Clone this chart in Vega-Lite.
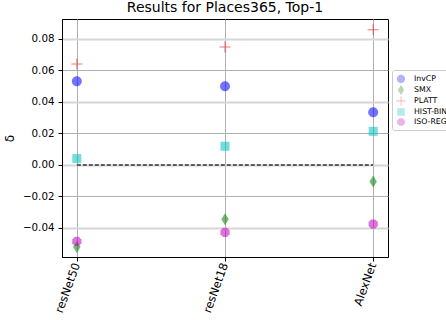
{
  "$schema": "https://vega.github.io/schema/vega-lite/v6.json",
  "autosize": "none",
  "width": 326,
  "height": 238,
  "padding": {"left": 62, "top": 19, "right": 58, "bottom": 63},
  "background": "white",
  "title": {
    "text": "Results for Places365, Top-1",
    "font": "DejaVu Sans",
    "fontSize": 14,
    "fontWeight": "normal",
    "color": "black",
    "anchor": "middle",
    "offset": 4
  },
  "config": {
    "font": "DejaVu Sans",
    "view": {"stroke": "black", "strokeWidth": 1}
  },
  "datasets": {
    "results": [
      {"model": "resNet50", "method": "InvCP", "delta": 0.053},
      {"model": "resNet50", "method": "SMX", "delta": -0.052},
      {"model": "resNet50", "method": "PLATT", "delta": 0.064},
      {"model": "resNet50", "method": "HIST-BIN", "delta": 0.004},
      {"model": "resNet50", "method": "ISO-REG", "delta": -0.0485},
      {"model": "resNet18", "method": "InvCP", "delta": 0.0498},
      {"model": "resNet18", "method": "SMX", "delta": -0.0344},
      {"model": "resNet18", "method": "PLATT", "delta": 0.0747},
      {"model": "resNet18", "method": "HIST-BIN", "delta": 0.0118},
      {"model": "resNet18", "method": "ISO-REG", "delta": -0.0428},
      {"model": "AlexNet", "method": "InvCP", "delta": 0.0334},
      {"model": "AlexNet", "method": "SMX", "delta": -0.0105},
      {"model": "AlexNet", "method": "PLATT", "delta": 0.0857},
      {"model": "AlexNet", "method": "HIST-BIN", "delta": 0.0213},
      {"model": "AlexNet", "method": "ISO-REG", "delta": -0.0375}
    ],
    "baseline": [
      {"model": "resNet50", "delta": 0},
      {"model": "AlexNet", "delta": 0}
    ]
  },
  "encoding": {
    "x": {
      "field": "model",
      "type": "nominal",
      "sort": ["resNet50", "resNet18", "AlexNet"],
      "scale": {"type": "point", "domain": ["resNet50", "resNet18", "AlexNet"], "padding": 0.1},
      "axis": {
        "title": null,
        "labelAngle": -70,
        "labelFontSize": 11.5,
        "labelColor": "black",
        "labelPadding": 2,
        "tickSize": 4,
        "tickColor": "black",
        "domainColor": "black",
        "grid": true,
        "gridColor": "#b0b0b0",
        "gridWidth": 1
      }
    },
    "y": {
      "field": "delta",
      "type": "quantitative",
      "scale": {"domain": [-0.0584, 0.0925], "nice": false, "zero": false},
      "axis": {
        "title": "δ",
        "titleFontSize": 12,
        "titleFontWeight": "normal",
        "titleColor": "black",
        "titlePadding": 6,
        "values": [-0.04, -0.02, 0, 0.02, 0.04, 0.06, 0.08],
        "format": ".2f",
        "labelFontSize": 10.3,
        "labelColor": "black",
        "labelPadding": 4,
        "tickSize": 4,
        "tickColor": "black",
        "domainColor": "black",
        "grid": true,
        "gridColor": {
          "condition": {"test": "abs(round(datum.value * 100)) % 4 == 0", "value": "#d6d6d6"},
          "value": "#b0b0b0"
        },
        "gridWidth": {
          "condition": {"test": "abs(round(datum.value * 100)) % 4 == 0", "value": 2},
          "value": 1
        }
      }
    }
  },
  "layer": [
    {
      "data": {"name": "baseline"},
      "mark": {"type": "line", "color": "#333333", "strokeWidth": 1.5, "strokeDash": [4, 2]},
      "encoding": {}
    },
    {
      "data": {"name": "results"},
      "mark": {"type": "point", "filled": true, "opacity": 0.55, "size": 144, "strokeWidth": 0},
      "encoding": {
        "color": {
          "field": "method",
          "type": "nominal",
          "scale": {
            "domain": ["InvCP", "SMX", "PLATT", "HIST-BIN", "ISO-REG"],
            "range": ["#0000ff", "#008000", "#ff0000", "#00bfbf", "#bf00bf"]
          },
          "legend": {
            "title": null,
            "orient": "none",
            "legendX": 330,
            "legendY": 51,
            "padding": 4,
            "fillColor": "white",
            "strokeColor": "#cccccc",
            "cornerRadius": 2,
            "labelFont": "DejaVu Sans",
            "labelFontSize": 7.8,
            "labelColor": "black",
            "labelOffset": 8,
            "rowPadding": 1,
            "symbolSize": 100,
            "symbolOpacity": 0.6,
            "symbolStrokeWidth": 0
          }
        },
        "shape": {
          "field": "method",
          "type": "nominal",
          "scale": {
            "domain": ["InvCP", "SMX", "PLATT", "HIST-BIN", "ISO-REG"],
            "range": [
              "M0.83,0A0.83,0.83,0,1,1,-0.83,0A0.83,0.83,0,1,1,0.83,0Z",
              "M0,-1L0.62,0L0,1L-0.62,0Z",
              "M-0.92,-0.09H0.92V0.09H-0.92Z M-0.09,-0.92H0.09V0.92H-0.09Z",
              "M-0.75,-0.75H0.75V0.75H-0.75Z",
              "M0.32,-0.77L0.77,-0.32L0.77,0.32L0.32,0.77L-0.32,0.77L-0.77,0.32L-0.77,-0.32L-0.32,-0.77Z"
            ]
          }
        }
      }
    }
  ]
}
